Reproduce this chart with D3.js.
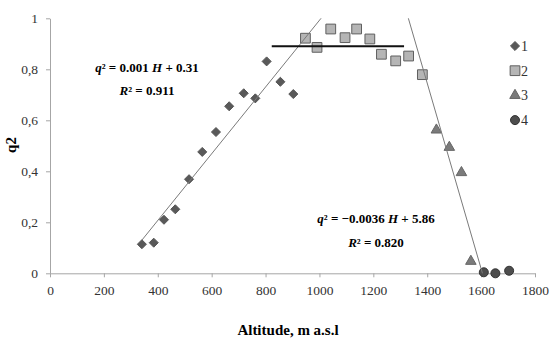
<!DOCTYPE html>
<html>
<head>
<meta charset="utf-8">
<script src="https://cdn.jsdelivr.net/npm/d3@7"></script>
<style>
  body { margin: 0; background: #fff; }
  svg text { font-family: "Liberation Serif", Tinos, "Times New Roman", Times, "DejaVu Serif", serif; }
</style>
</head>
<body>
<script>
// zone 1 (diamonds)
var alt1 = [341, 385, 423, 465, 516, 565, 616, 665, 719, 762, 804, 855, 903];
var q1 = [0.114, 0.12, 0.21, 0.251, 0.369, 0.476, 0.554, 0.655, 0.706, 0.686, 0.831, 0.751, 0.703];
// zone 2 (squares)
var alt2 = [948, 991, 1042, 1095, 1138, 1187, 1230, 1283, 1331, 1382];
var q2 = [0.922, 0.886, 0.958, 0.924, 0.958, 0.919, 0.859, 0.833, 0.852, 0.779];
// zone 3 (triangles)
var alt3 = [1434, 1482, 1527, 1562];
var q3 = [0.562, 0.494, 0.395, 0.047];
// zone 4 (circles)
var alt4 = [1610, 1653, 1704];
var q4 = [0.004, 0, 0.01];

// trend lines, end points [altitude, q2]
var fitUp = [[341, 0.13], [1006, 1.0]];
var fitFlat = [[823, 0.89], [1314, 0.89]];
var fitDown = [[1330, 1.0], [1605, 0.0]];

var xTicks = [0, 200, 400, 600, 800, 1000, 1200, 1400, 1600, 1800];
var yTicks = [0, 0.2, 0.4, 0.6, 0.8, 1];
var seriesNames = ["1", "2", "3", "4"];

var w = 550, h = 338;
var serif = "'Liberation Serif', Tinos, 'Times New Roman', Times, 'DejaVu Serif', serif";

var xScale = d3.scaleLinear().domain([0, 1800]).range([50, 535]);
var yScale = d3.scaleLinear().domain([0, 1]).range([273.3, 18.3]);

var svg = d3.select("body").append("svg")
    .attr("width", w)
    .attr("height", h);

// axes
var xAxis = d3.axisBottom(xScale).tickValues(xTicks).tickSize(4).tickSizeOuter(0).tickPadding(8)
    .tickFormat(function(d) { return d; });
var gx = svg.append("g")
    .attr("transform", "translate(0," + yScale(0) + ")")
    .call(xAxis);

var yAxis = d3.axisLeft(yScale).tickValues(yTicks).tickSize(4).tickSizeOuter(0).tickPadding(8)
    .tickFormat(function(d) { return d === 0 || d === 1 ? d : String(d).replace(".", ","); });
var gy = svg.append("g")
    .attr("transform", "translate(" + xScale(0) + ",0)")
    .call(yAxis);

[gx, gy].forEach(function(g) {
    g.attr("font-family", serif);
    g.select(".domain").attr("stroke", "#a6a6a6");
    g.selectAll(".tick line").attr("stroke", "#a6a6a6");
    g.selectAll(".tick text")
        .attr("fill", "#333")
        .style("font-family", serif)
        .style("font-size", "13.5px");
});

// axis titles
svg.append("text")
    .attr("x", 288)
    .attr("y", 335)
    .attr("text-anchor", "middle")
    .style("font-family", serif)
    .style("font-size", "15px")
    .style("font-weight", "bold")
    .text("Altitude, m a.s.l");

svg.append("text")
    .attr("transform", "translate(16,145) rotate(-90)")
    .attr("text-anchor", "middle")
    .style("font-family", serif)
    .style("font-size", "15px")
    .style("font-weight", "bold")
    .text("q2");

// markers
function pairs(xs, ys) {
    return xs.map(function(x, i) { return [x, ys[i]]; });
}

var styles = [
    { sym: d3.symbolDiamond2, size: 52, fill: "#595959", stroke: "#555" },
    { sym: d3.symbolSquare, size: 95, fill: "#b5b5b5", stroke: "#5f5f5f" },
    { sym: d3.symbolTriangle, size: 48, fill: "#7b7b7b", stroke: "#666" },
    { sym: d3.symbolCircle, size: 64, fill: "#4d4d4d", stroke: "#333" }
];
var allData = [pairs(alt1, q1), pairs(alt2, q2), pairs(alt3, q3), pairs(alt4, q4)];

allData.forEach(function(data, k) {
    var st = styles[k];
    svg.append("g").selectAll("path")
        .data(data)
        .enter()
        .append("path")
        .attr("d", d3.symbol().type(st.sym).size(st.size))
        .attr("transform", function(d) {
            return "translate(" + xScale(d[0]) + "," + yScale(d[1]) + ")";
        })
        .attr("fill", st.fill)
        .attr("stroke", st.stroke)
        .attr("stroke-width", 1);
});

// fit lines (drawn over the markers)
var line = d3.line()
    .x(function(d) { return xScale(d[0]); })
    .y(function(d) { return yScale(d[1]); });

svg.append("path").datum(fitUp).attr("d", line)
    .attr("fill", "none").attr("stroke", "#7a7a7a").attr("stroke-width", 1);
svg.append("path").datum(fitDown).attr("d", line)
    .attr("fill", "none").attr("stroke", "#7a7a7a").attr("stroke-width", 1);
svg.append("path").datum(fitFlat).attr("d", line)
    .attr("fill", "none").attr("stroke", "#111").attr("stroke-width", 2);

// legend
var legend = svg.append("g").attr("transform", "translate(515,46)");
seriesNames.forEach(function(name, k) {
    var st = styles[k];
    var g = legend.append("g").attr("transform", "translate(0," + (k * 24.7) + ")");
    g.append("path")
        .attr("d", d3.symbol().type(st.sym).size(st.size))
        .attr("fill", st.fill)
        .attr("stroke", st.stroke);
    g.append("text")
        .attr("x", 6)
        .attr("y", 5)
        .style("font-family", serif)
        .style("font-size", "14px")
        .attr("fill", "#333")
        .text(name);
});

// equations
function equation(x, y, parts) {
    var t = svg.append("text")
        .attr("x", x)
        .attr("y", y)
        .attr("text-anchor", "middle")
        .style("font-family", serif)
        .style("font-size", "13px")
        .style("font-weight", "bold");
    parts.forEach(function(p) {
        var s = t.append("tspan").text(p[0]);
        if (p[1] === "i") s.style("font-style", "italic");
    });
}

equation(147, 72, [["q", "i"], ["\u00b2 = 0.001 ", ""], ["H", "i"], [" + 0.31", ""]]);
equation(147, 95, [["R", "i"], ["\u00b2 = 0.911", ""]]);
equation(376, 223, [["q", "i"], ["\u00b2 = \u22120.0036 ", ""], ["H", "i"], [" + 5.86", ""]]);
equation(376, 247, [["R", "i"], ["\u00b2 = 0.820", ""]]);
</script>
</body>
</html>
